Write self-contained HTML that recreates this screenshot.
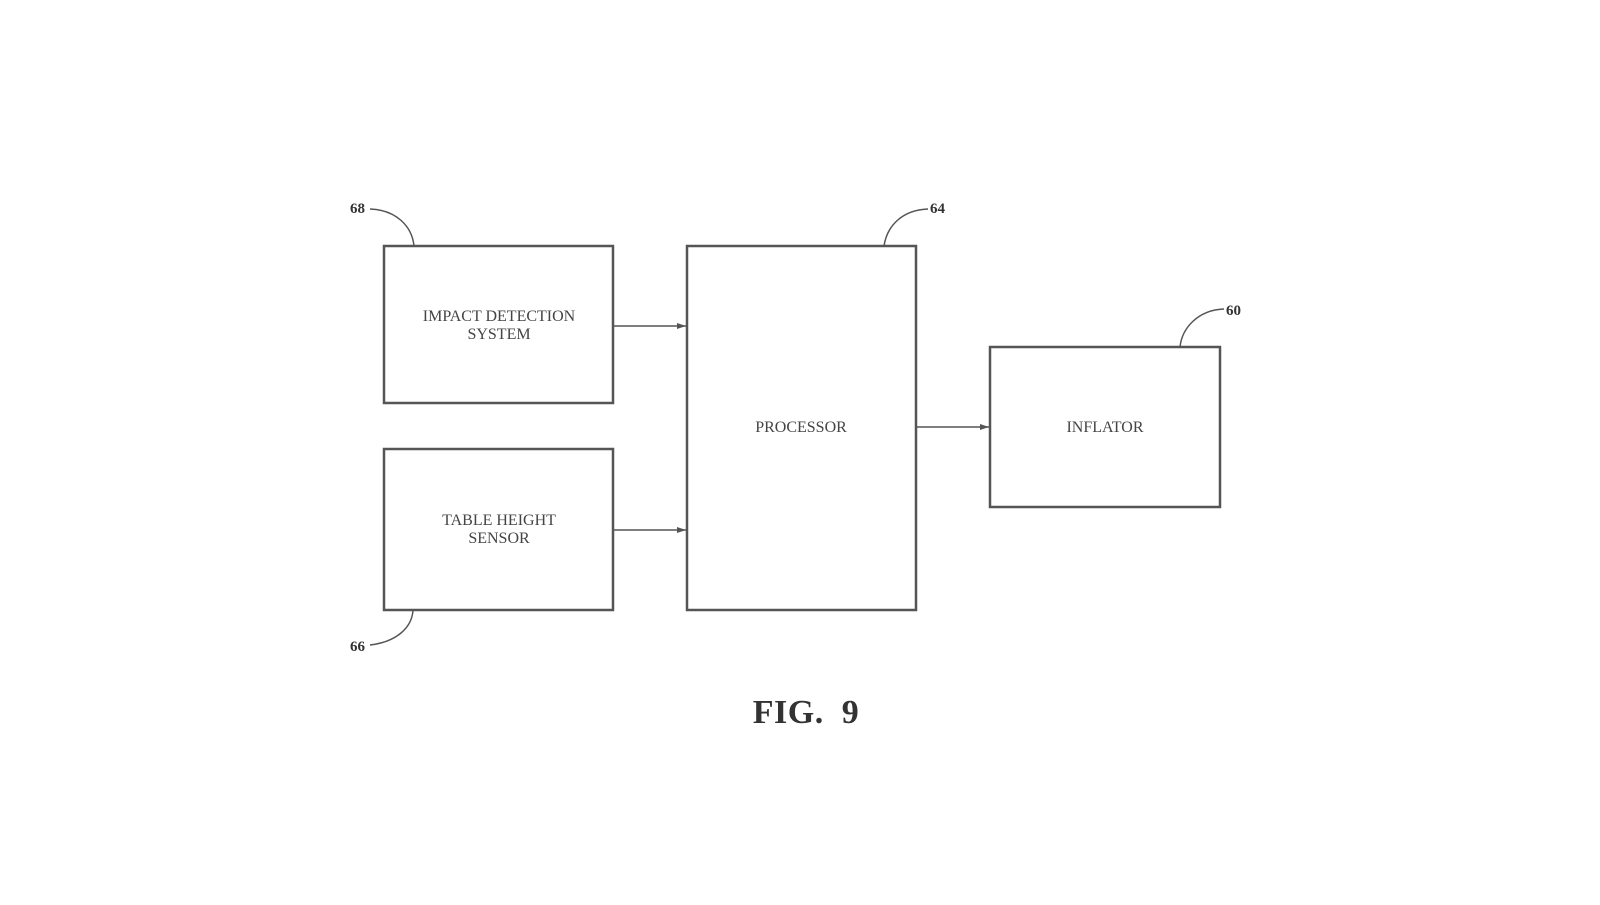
<!DOCTYPE html>
<html><head><style>html,body{margin:0;padding:0;background:#fff;}</style></head>
<body>
<svg width="1600" height="900" xmlns="http://www.w3.org/2000/svg" font-family="'Liberation Serif', serif">
<defs><marker id="a" markerWidth="10" markerHeight="8" refX="9" refY="4" orient="auto" markerUnits="userSpaceOnUse"><path d="M0,1 L9,4 L0,7 z" fill="#555"/></marker></defs>
<g fill="none" stroke="#555" stroke-width="2.5">
<rect x="384" y="246" width="229" height="157"/>
<rect x="384" y="449" width="229" height="161"/>
<rect x="687" y="246" width="229" height="364"/>
<rect x="990" y="347" width="230" height="160"/>
</g>
<g stroke="#555" stroke-width="1.5" fill="none">
<line x1="613" y1="326" x2="686" y2="326" marker-end="url(#a)"/>
<line x1="613" y1="530" x2="686" y2="530" marker-end="url(#a)"/>
<line x1="916" y1="427" x2="989" y2="427" marker-end="url(#a)"/>
<path d="M370,209 C396,210 412,226 414,246"/>
<path d="M928,209 C902,210 887,226 884,246"/>
<path d="M1224,309 C1198,310 1182,328 1180,347"/>
<path d="M370,645 C396,642 412,628 413,610"/>
</g>
<g fill="#444" font-size="16" text-anchor="middle">
<text x="499" y="321">IMPACT DETECTION</text>
<text x="499" y="339">SYSTEM</text>
<text x="499" y="525">TABLE HEIGHT</text>
<text x="499" y="543">SENSOR</text>
<text x="801" y="432">PROCESSOR</text>
<text x="1105" y="432">INFLATOR</text>
</g>
<g fill="#333" font-size="15" font-weight="bold">
<text x="350" y="213">68</text>
<text x="930" y="213">64</text>
<text x="1226" y="315">60</text>
<text x="350" y="651">66</text>
</g>
<text x="806" y="723" text-anchor="middle" font-size="34" font-weight="bold" fill="#333" letter-spacing="0.5">FIG.&#160;&#160;9</text>
</svg>
</body></html>
